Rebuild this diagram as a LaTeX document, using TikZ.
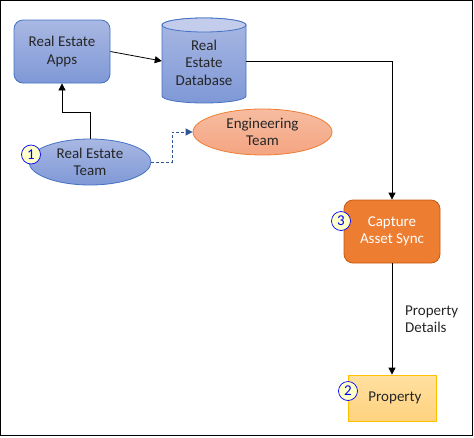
\documentclass[tikz,border=0pt]{standalone}
\usepackage{fontspec}
\setmainfont{Carlito}
\usetikzlibrary{shapes.geometric,arrows.meta}
\definecolor{bluebd}{HTML}{4472C4}
\definecolor{bluetop}{HTML}{A9B8E3}
\definecolor{bluebot}{HTML}{7F98D6}
\definecolor{orgbd}{HTML}{ED7D31}
\definecolor{orgtop}{HTML}{F7BCA0}
\definecolor{orgbot}{HTML}{F4A582}
\definecolor{capfill}{HTML}{ED7D31}
\definecolor{capbd}{HTML}{C55A11}
\definecolor{propbd}{HTML}{FFC000}
\definecolor{proptop}{HTML}{FFE0A0}
\definecolor{propbot}{HTML}{FFD27F}
\definecolor{txt}{HTML}{262626}
\definecolor{badgefill}{HTML}{FFFFC8}
\definecolor{dashcol}{HTML}{2F5597}
\tikzset{
  base/.style={font=\fontsize{15}{17.5}\selectfont, text=txt, align=center, inner sep=0pt},
  bluebox/.style={base, draw=bluebd, line width=0.8pt, rounded corners=9pt, top color=bluetop, bottom color=bluebot},
  blueell/.style={base, ellipse, draw=bluebd, line width=0.8pt, top color=bluetop, bottom color=bluebot},
  orgell/.style={base, ellipse, draw=orgbd, line width=0.8pt, top color=orgtop, bottom color=orgbot},
  capbox/.style={base, text=white, draw=capbd, line width=0.8pt, rounded corners=9pt, fill=capfill},
  propbox/.style={base, draw=propbd, line width=0.8pt, top color=proptop, bottom color=propbot},
  badge/.style={circle, draw=blue, fill=badgefill, line width=0.7pt, text=blue, minimum size=19pt, inner sep=0pt, font=\fontsize{15}{15}\selectfont},
  conn/.style={draw=black, line width=0.8pt, -{Triangle[length=7pt,width=7pt]}},
  dconn/.style={draw=dashcol, line width=0.8pt, dashed, dash pattern=on 3pt off 2pt, -{Triangle[length=7pt,width=7pt]}},
  lbl/.style={font=\fontsize{15}{16.5}\selectfont, text=txt, align=left, inner sep=0pt}
}
\begin{document}
\begin{tikzpicture}[x=1pt,y=-1pt]
\useasboundingbox (0,0) rectangle (474,437);
\draw[line width=1pt] (0.5,0.5) rectangle (472.5,435.5);

% Real Estate Apps
\node[bluebox, minimum width=96pt, minimum height=63pt] (apps) at (62,51.5) {Real Estate\\Apps};

% Database cylinder
\path[draw=bluebd, line width=0.8pt, top color=bluetop, bottom color=bluebot]
  (162,25) -- (162,96) arc[start angle=180, end angle=360, x radius=42, y radius=-7] -- (246,25)
  arc[start angle=0, end angle=180, x radius=42, y radius=-7] -- cycle;
\path[draw=bluebd, line width=0.8pt, fill=bluetop!70!white] (204,25) ellipse[x radius=42, y radius=7];
\node[base, minimum width=84pt, minimum height=70pt] (db) at (204,62.5) {Real\\Estate\\Database};

% Real Estate Team
\node[blueell, minimum width=122pt, minimum height=46pt] (ret) at (90,162) {Real Estate\\Team};
\node[badge] (b1) at (31,154.5) {1};

% Engineering Team
\node[orgell, minimum width=139pt, minimum height=46pt] (eng) at (262.5,132) {Engineering\\Team};

% Capture Asset Sync
\node[capbox, minimum width=96pt, minimum height=63pt] (cap) at (392,231.5) {Capture\\Asset Sync};
\node[badge] (b3) at (341,221) {3};

% Property
\node[propbox, minimum width=88pt, minimum height=46pt] (prop) at (392,398) {\hspace*{6pt}Property};
\node[badge] (b2) at (348,391) {2};

% Label
\node[lbl, anchor=west] (pd) at (405,319) {Property\\Details};

% Connectors
\coordinate (k1) at (62,112);
\draw[conn] (ret.north) |- (k1) -- (apps.south);
\draw[conn] (apps.east) -- (db.west |- 0,61);
\draw[conn] (db.east |- 0,61) -| (cap.north);
\draw[dconn] (ret.east) -- ++(21,0) |- (eng.west);
\draw[conn] (cap.south) -- (prop.north);
\end{tikzpicture}
\end{document}
